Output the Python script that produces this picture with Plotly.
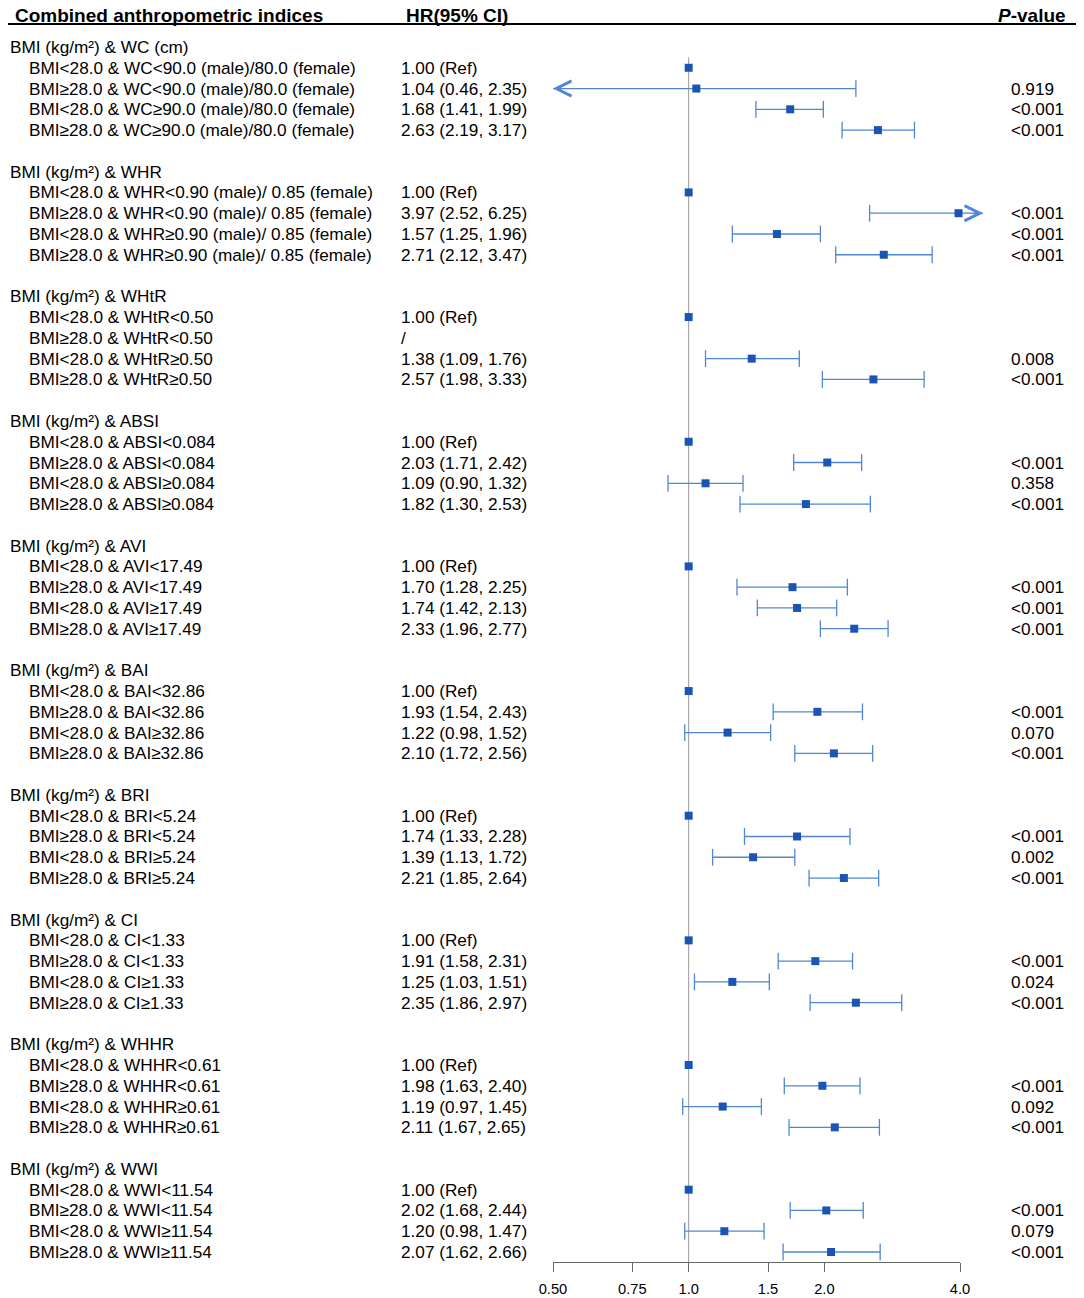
import numpy as np
import plotly.graph_objects as go

# === datos ===
group_titles = [
    "BMI (kg/m²) & WC (cm)", "BMI (kg/m²) & WHR", "BMI (kg/m²) & WHtR",
    "BMI (kg/m²) & ABSI", "BMI (kg/m²) & AVI", "BMI (kg/m²) & BAI",
    "BMI (kg/m²) & BRI", "BMI (kg/m²) & CI", "BMI (kg/m²) & WHHR",
    "BMI (kg/m²) & WWI",
]

row_labels = [
    "BMI<28.0 & WC<90.0 (male)/80.0 (female)",
    "BMI≥28.0 & WC<90.0 (male)/80.0 (female)",
    "BMI<28.0 & WC≥90.0 (male)/80.0 (female)",
    "BMI≥28.0 & WC≥90.0 (male)/80.0 (female)",
    "BMI<28.0 & WHR<0.90 (male)/ 0.85 (female)",
    "BMI≥28.0 & WHR<0.90 (male)/ 0.85 (female)",
    "BMI<28.0 & WHR≥0.90 (male)/ 0.85 (female)",
    "BMI≥28.0 & WHR≥0.90 (male)/ 0.85 (female)",
    "BMI<28.0 & WHtR<0.50", "BMI≥28.0 & WHtR<0.50",
    "BMI<28.0 & WHtR≥0.50", "BMI≥28.0 & WHtR≥0.50",
    "BMI<28.0 & ABSI<0.084", "BMI≥28.0 & ABSI<0.084",
    "BMI<28.0 & ABSI≥0.084", "BMI≥28.0 & ABSI≥0.084",
    "BMI<28.0 & AVI<17.49", "BMI≥28.0 & AVI<17.49",
    "BMI<28.0 & AVI≥17.49", "BMI≥28.0 & AVI≥17.49",
    "BMI<28.0 & BAI<32.86", "BMI≥28.0 & BAI<32.86",
    "BMI<28.0 & BAI≥32.86", "BMI≥28.0 & BAI≥32.86",
    "BMI<28.0 & BRI<5.24", "BMI≥28.0 & BRI<5.24",
    "BMI<28.0 & BRI≥5.24", "BMI≥28.0 & BRI≥5.24",
    "BMI<28.0 & CI<1.33", "BMI≥28.0 & CI<1.33",
    "BMI<28.0 & CI≥1.33", "BMI≥28.0 & CI≥1.33",
    "BMI<28.0 & WHHR<0.61", "BMI≥28.0 & WHHR<0.61",
    "BMI<28.0 & WHHR≥0.61", "BMI≥28.0 & WHHR≥0.61",
    "BMI<28.0 & WWI<11.54", "BMI≥28.0 & WWI<11.54",
    "BMI<28.0 & WWI≥11.54", "BMI≥28.0 & WWI≥11.54",
]

# None en hr = sin estimación ("/"), None en ci = referencia
hr = [1.00, 1.04, 1.68, 2.63,
      1.00, 3.97, 1.57, 2.71,
      1.00, None, 1.38, 2.57,
      1.00, 2.03, 1.09, 1.82,
      1.00, 1.70, 1.74, 2.33,
      1.00, 1.93, 1.22, 2.10,
      1.00, 1.74, 1.39, 2.21,
      1.00, 1.91, 1.25, 2.35,
      1.00, 1.98, 1.19, 2.11,
      1.00, 2.02, 1.20, 2.07]
ci_low = [None, 0.46, 1.41, 2.19,
          None, 2.52, 1.25, 2.12,
          None, None, 1.09, 1.98,
          None, 1.71, 0.90, 1.30,
          None, 1.28, 1.42, 1.96,
          None, 1.54, 0.98, 1.72,
          None, 1.33, 1.13, 1.85,
          None, 1.58, 1.03, 1.86,
          None, 1.63, 0.97, 1.67,
          None, 1.68, 0.98, 1.62]
ci_high = [None, 2.35, 1.99, 3.17,
           None, 6.25, 1.96, 3.47,
           None, None, 1.76, 3.33,
           None, 2.42, 1.32, 2.53,
           None, 2.25, 2.13, 2.77,
           None, 2.43, 1.52, 2.56,
           None, 2.28, 1.72, 2.64,
           None, 2.31, 1.51, 2.97,
           None, 2.40, 1.45, 2.65,
           None, 2.44, 1.47, 2.66]
p_values = ["", "0.919", "<0.001", "<0.001",
            "", "<0.001", "<0.001", "<0.001",
            "", "", "0.008", "<0.001",
            "", "<0.001", "0.358", "<0.001",
            "", "<0.001", "<0.001", "<0.001",
            "", "<0.001", "0.070", "<0.001",
            "", "<0.001", "0.002", "<0.001",
            "", "<0.001", "0.024", "<0.001",
            "", "<0.001", "0.092", "<0.001",
            "", "<0.001", "0.079", "<0.001"]

tick_vals = [0.5, 0.75, 1.0, 1.5, 2.0, 4.0]
tick_text = ["0.50", "0.75", "1.0", "1.5", "2.0", "4.0"]
clip_lo, clip_hi = 0.5, 4.5

# === geometria (pixeles de la pagina; la pagina tiene 8px de margen) ===
W, H = 1084, 1298
OFF = 8
px_dbl = (960 - 553) / 3          # pixeles por duplicacion
row_step = (1252 - 47) / 58
top_px = 47 - OFF
axis_px = 1262 - OFF

def fx(px):                        # x en papel desde pixel de pagina
    return (px - OFF) / W

def log_at(px):
    return np.log10(0.5) + (px - 553) / px_dbl * np.log10(2)

FONT = "Liberation Sans, Arial, sans-serif"
MARK = "#1a55b3"
LINE = "#5086d4"

# filas
group_rows, item_rows = [], []
r = 0
for g in range(len(group_titles)):
    group_rows.append(r)
    r += 1
    for k in range(4):
        item_rows.append(r)
        r += 1
    r += 1
y_bottom = (axis_px - top_px) / row_step

fig = go.Figure()

# linea de referencia en 1
fig.add_trace(go.Scatter(x=[1, 1], y=[0.5, y_bottom], mode="lines",
                         line=dict(color="#9a9a9a", width=1),
                         hoverinfo="skip", showlegend=False))

seg_x, seg_y, cap_x, cap_y, arrows = [], [], [], [], []
for i, row in enumerate(item_rows):
    lo, hi = ci_low[i], ci_high[i]
    if lo is None:
        continue
    seg_x += [max(lo, clip_lo), min(hi, clip_hi), None]
    seg_y += [row, row, None]
    if lo >= clip_lo:
        cap_x.append(lo); cap_y.append(row)
    else:
        arrows.append((clip_lo, row, 12))
    if hi <= clip_hi:
        cap_x.append(hi); cap_y.append(row)
    else:
        arrows.append((clip_hi, row, -12))

fig.add_trace(go.Scatter(x=seg_x, y=seg_y, mode="lines",
                         line=dict(color=LINE, width=1.3),
                         hoverinfo="skip", showlegend=False))
fig.add_trace(go.Scatter(x=cap_x, y=cap_y, mode="markers",
                         marker=dict(symbol="line-ns", size=12,
                                     line=dict(color=LINE, width=1.3)),
                         hoverinfo="skip", showlegend=False))

pt_x = [v for v in hr if v is not None]
pt_y = [row for v, row in zip(hr, item_rows) if v is not None]
fig.add_trace(go.Scatter(x=pt_x, y=pt_y, mode="markers",
                         marker=dict(symbol="square", size=8, color=MARK,
                                     line=dict(width=0)),
                         hoverinfo="skip", showlegend=False))

# eje visible (0.50 a 4.0)
fig.add_trace(go.Scatter(x=[1], y=[0], xaxis="x2", mode="markers",
                         marker=dict(opacity=0), hoverinfo="skip",
                         showlegend=False))

for x, row, off in arrows:
    fig.add_annotation(x=np.log10(x), y=row, xref="x", yref="y", text="",
                       showarrow=True, arrowhead=5, arrowsize=3,
                       arrowwidth=1, arrowcolor=LINE, ax=off, ay=0)

# textos
def txt(x_px, y, s, anchor="left", yref="y", size=17.2):
    fig.add_annotation(x=fx(x_px), y=y, xref="paper", yref=yref, text=s,
                       showarrow=False, xanchor=anchor, yanchor="middle",
                       font=dict(family=FONT, size=size, color="black"))

for title, row in zip(group_titles, group_rows):
    txt(8, row, title)
for i, row in enumerate(item_rows):
    txt(27, row, row_labels[i])
    if hr[i] is None:
        s = "/"
    elif ci_low[i] is None:
        s = f"{hr[i]:.2f} (Ref)"
    else:
        s = f"{hr[i]:.2f} ({ci_low[i]:.2f}, {ci_high[i]:.2f})"
    txt(399, row, s)
    if p_values[i]:
        txt(1009, row, p_values[i])

y_head = 1 - 7 / H
txt(13, y_head, "<b>Combined anthropometric indices</b>", yref="paper", size=19)
txt(457, y_head, "<b>HR(95% CI)</b>", anchor="center", yref="paper", size=19)
txt(1068, y_head, "<b><i>P</i>-value</b>", anchor="right", yref="paper", size=19)

fig.add_shape(type="line", xref="paper", yref="paper", x0=0, x1=fx(1080),
              y0=1 - (24 - OFF) / H, y1=1 - (24 - OFF) / H,
              line=dict(color="black", width=2))

fig.update_layout(
    width=W, height=H,
    margin=dict(l=0, r=0, t=0, b=0, autoexpand=False),
    paper_bgcolor="white", plot_bgcolor="rgba(0,0,0,0)",
    font=dict(family=FONT, size=17, color="black"),
    xaxis=dict(type="log", domain=[fx(546), fx(1000)],
               range=[log_at(546), log_at(1000)], visible=False),
    xaxis2=dict(type="log", domain=[fx(553), fx(960)], anchor="y",
                range=[np.log10(0.5), np.log10(4.0)],
                showline=True, linecolor="#666666", linewidth=1,
                ticks="outside", ticklen=9, tickcolor="#666666",
                tickvals=tick_vals, ticktext=tick_text,
                tickfont=dict(family=FONT, size=14.7, color="black"),
                ticklabelstandoff=4,
                showgrid=False, zeroline=False),
    yaxis=dict(domain=[(H - axis_px) / H, 1],
               range=[y_bottom, -top_px / row_step], visible=False),
)

fig.write_html("out.html")
